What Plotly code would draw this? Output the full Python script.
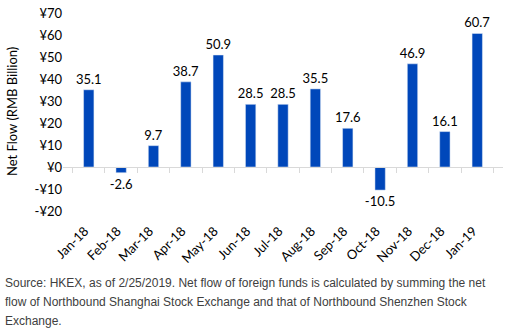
import plotly.graph_objects as go

months = ["Jan-18", "Feb-18", "Mar-18", "Apr-18", "May-18", "Jun-18", "Jul-18",
          "Aug-18", "Sep-18", "Oct-18", "Nov-18", "Dec-18", "Jan-19"]
net_flow = [35.1, -2.6, 9.7, 38.7, 50.9, 28.5, 28.5, 35.5, 17.6, -10.5, 46.9, 16.1, 60.7]
y_ticks = [-20, -10, 0, 10, 20, 30, 40, 50, 60, 70]
y_tick_labels = [("-¥" if v < 0 else "¥") + str(abs(v)) for v in y_ticks]

y_min, y_max = -20, 70
font_main = "Lato, Carlito, Calibri, sans-serif"
note_lines = [
    "Source: HKEX, as of 2/25/2019. Net flow of foreign funds is calculated by summing the net",
    "flow of Northbound Shanghai Stock Exchange and that of Northbound Shenzhen Stock",
    "Exchange.",
]

fig = go.Figure()
fig.add_trace(go.Bar(
    x=months, y=net_flow,
    marker_color="#0047BA",
    text=[f"{v:.1f}" for v in net_flow],
    textposition="outside",
    constraintext="none",
    textfont=dict(family=font_main, size=13, color="#000000"),
    cliponaxis=False,
    hoverinfo="skip",
))
# invisible trace carrying the category axis drawn along zero
fig.add_trace(go.Scatter(
    x=months, y=[0] * len(months), xaxis="x2", mode="markers",
    marker=dict(opacity=0), hoverinfo="skip", showlegend=False,
))

annotations = [
    dict(text=line, xref="paper", yref="paper", x=0, y=0,
         xanchor="left", yanchor="middle", align="left", showarrow=False,
         xshift=-60, yshift=-72 - 19 * i,
         font=dict(family="Liberation Sans, Arial, sans-serif", size=12, color="#404040"))
    for i, line in enumerate(note_lines)
]
# y-axis title placed in the left margin
annotations.append(dict(
    text="Net Flow (RMB Billion)", xref="paper", yref="paper", x=0, y=0.5,
    xanchor="center", yanchor="middle", textangle=-90, showarrow=False,
    xshift=-51, font=dict(family=font_main, size=13, color="#000000"),
))

fig.update_layout(
    width=517, height=336,
    margin=dict(l=63, r=14, t=13, b=125),
    plot_bgcolor="white", paper_bgcolor="white",
    showlegend=False,
    bargap=0.68,
    font=dict(family=font_main, size=12, color="#000000"),
    xaxis=dict(
        type="category", tickangle=-45, showgrid=False, showline=False,
        ticks="", zeroline=False, tickfont=dict(family=font_main, size=13),
        ticklabelstandoff=9, ticklabelshift=-4, automargin=False,
    ),
    xaxis2=dict(
        type="category", overlaying="x", matches="x", anchor="free",
        position=(0 - y_min) / (y_max - y_min),
        showline=True, linecolor="#D9D9D9", linewidth=1,
        ticks="outside", tickson="boundaries", ticklen=5, tickcolor="#D9D9D9",
        showticklabels=False, showgrid=False, automargin=False,
    ),
    yaxis=dict(
        range=[y_min, y_max], tickvals=y_ticks, ticktext=y_tick_labels,
        showgrid=False, zeroline=False, showline=False, ticks="",
        tickfont=dict(family=font_main, size=13), automargin=False,
    ),
    annotations=annotations,
)

fig.write_html("out.html")
